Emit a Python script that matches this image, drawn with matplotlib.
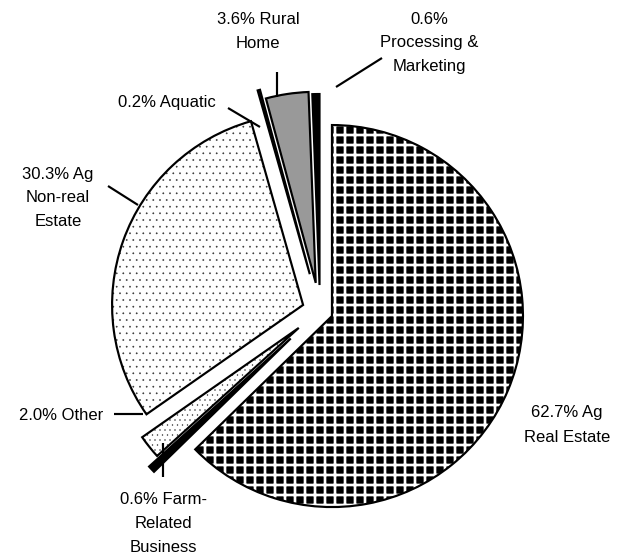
import matplotlib
matplotlib.use("Agg")
import matplotlib.pyplot as plt
from matplotlib.patches import Wedge

plt.rcParams['font.family'] = ['Liberation Sans', 'DejaVu Sans']
plt.rcParams['hatch.linewidth'] = 1.6

# ---- data ----
categories = ["Ag Real Estate", "Farm-Related Business", "Other", "Ag Non-real Estate",
              "Aquatic", "Rural Home", "Processing & Marketing"]
values = [62.7, 0.6, 2.0, 30.3, 0.2, 3.6, 0.6]
labels = ["62.7% Ag\nReal Estate", "0.6% Farm-\nRelated\nBusiness", "2.0% Other",
          "30.3% Ag\nNon-real\nEstate", "0.2% Aquatic", "3.6% Rural\nHome",
          "0.6%\nProcessing &\nMarketing"]

# ---- style ----
explode = [0.068, 0.21, 0.142, 0.094, 0.20, 0.149, 0.136]
faces = ["black", "black", "white", "white", "#2a0a2a", "#999999", "black"]
hatches = ["++", None, "....", "...", None, None, None]
hatch_colors = ["white", None, "#333333", "#333333", None, None, None]
hatch_lws = [1.6, None, 0.25, 0.25, None, None, None]

W, H, DPI = 618, 558, 120
CX, CY, R = 320, 311, 191  # pie centre / radius in pixels

fig = plt.figure(figsize=(W / DPI, H / DPI), dpi=DPI)
ax = fig.add_axes([0, 0, 1, 1])

def P(px, py):
    return ((px - CX) / R, (CY - py) / R)

wedges, _ = ax.pie(values, explode=explode, startangle=90, counterclock=False,
                   radius=1.0, wedgeprops=dict(linewidth=1.3, edgecolor="black"))

for w, fc, h, hc, hlw in zip(wedges, faces, hatches, hatch_colors, hatch_lws):
    w.set_facecolor(fc)
    if h:
        w.set_edgecolor(hc)
        w.set_hatch(h)
        w.set_linewidth(0)
        if hasattr(w, "set_hatch_linewidth"):
            w.set_hatch_linewidth(hlw)
        outline = Wedge(w.center, w.r, w.theta1, w.theta2, fill=False,
                        edgecolor="black", linewidth=1.3, zorder=w.get_zorder() + 0.1)
        ax.add_patch(outline)
    else:
        w.set_edgecolor("black")

ax.set_xlim(-CX / R, (W - CX) / R)
ax.set_ylim(-(H - CY) / R, CY / R)
ax.set_aspect("auto")
ax.axis("off")

fs = 10
label_pos = {
    0: (567, 425),
    1: (163, 523),
    2: (61, 416),
    3: (58, 198),
    4: (167, 103),
    5: (258, 31),
    6: (429, 43),
}
for i, (px, py) in label_pos.items():
    x, y = P(px, py)
    ax.text(x, y, labels[i], ha="center", va="center", fontsize=fs,
            linespacing=1.75, color="black")

leaders = [
    ((277, 72), (277, 97)),     # Rural Home
    ((336, 87), (382, 58)),     # Processing
    ((228, 108), (260, 127)),   # Aquatic
    ((108, 186), (138, 205)),   # Non-real
    ((114, 414), (143, 414)),   # Other
    ((163, 443), (163, 477)),   # Farm-related
]
for (a, b) in leaders:
    xa, ya = P(*a)
    xb, yb = P(*b)
    ax.plot([xa, xb], [ya, yb], color="black", linewidth=1.3, solid_capstyle="butt")

fig.savefig("out.png", dpi=DPI, facecolor="white")
